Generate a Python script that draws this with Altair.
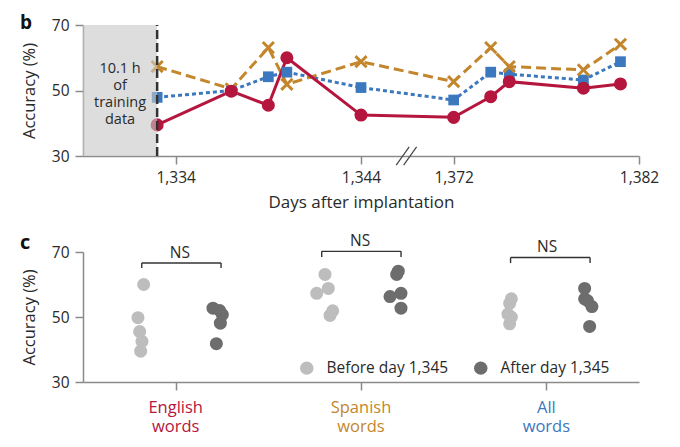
import altair as alt
import pandas as pd

# ---------------- data ----------------
days = [1333, 1337, 1339, 1340, 1344, 1372, 1374, 1375, 1379, 1381]
english = [39.5, 49.8, 45.5, 60.0, 42.5, 41.8, 48.1, 52.7, 50.7, 52.0]
spanish = [57.3, 50.5, 63.1, 51.9, 58.8, 52.7, 63.1, 57.3, 56.3, 64.1]
all_words = [47.9, 50.0, 54.2, 55.6, 50.9, 47.1, 55.6, 55.0, 53.2, 58.8]

tick_days = [1334, 1344, 1372, 1382]
tick_labels = ["1,334", "1,344", "1,372", "1,382"]
y_ticks = [30, 50, 70]
training_text = ["10.1 h", "of", "training", "data"]
training_start, training_end = 1329, 1333

categories = ["English words", "Spanish words", "All words"]
cat_line1 = ["English", "Spanish", "All"]
cat_line2 = ["words", "words", "words"]
periods = ["Before day 1,345", "After day 1,345"]
ns_labels = ["NS", "NS", "NS"]

# horizontal scatter of the dots in panel c (pixels)
jit_before = [[-35, -37.7, -36, -32, -33.7], [-44.3, -31, -36, -28.3, -32.7], [-36.7, -35, -36.7, -35, -38.4]]
jit_after = [[40.7, 44.7, 37.3, 46.7, 44], [40, 35.7, 40, 29, 37.3], [43.3, 38.3, 41.3, 45.6, 38.3]]

# ---------------- style ----------------
RED = "#b5163d"
ORANGE = "#c4862c"
BLUE = "#3b78be"
CAT_COLORS = [RED, ORANGE, BLUE]
LIGHT = "#bdbdbd"
DARK = "#6d6d6d"
FONT = "Open Sans"
TXT = "#2a2a2a"
AX = "#8a8a8a"
W = 556
GAP_SHIFT = 23  # days removed by the broken axis


def pos_of(d):
    return d - GAP_SHIFT if d > 1360 else d


tick_pos = [pos_of(d) for d in tick_days]
label_expr = " : ".join(
    f"datum.value == {p} ? '{l}'" for p, l in zip(tick_pos, tick_labels)
) + " : ''"

xscale = alt.Scale(domain=[1329, 1359], nice=False, zero=False)
yscale = alt.Scale(domain=[30, 70], nice=False, zero=False)
xaxis = alt.Axis(values=tick_pos, labelExpr=label_expr, tickSize=8, grid=False,
                 labelPadding=6, titlePadding=9, labelFontSize=15.5, titleFontSize=17,
                 labelFlush=False)
yaxis = alt.Axis(values=y_ticks, tickSize=8, grid=False, labelPadding=6,
                 titlePadding=14, labelFontSize=15.5, titleFontSize=16.5)


def X(f):
    return alt.X(f, type="quantitative", scale=xscale, axis=xaxis, title="Days after implantation")


def Y(f, scale=yscale, axis=yaxis):
    return alt.Y(f, type="quantitative", scale=scale, axis=axis, title="Accuracy (%)")


# ---------------- panel b ----------------
df_top = pd.DataFrame({
    "day": days * 3,
    "acc": english + spanish + all_words,
    "series": ["English"] * 10 + ["Spanish"] * 10 + ["All"] * 10,
})
base = alt.Chart(df_top).transform_calculate(
    pos=f"datum.day > 1360 ? datum.day - {GAP_SHIFT} : datum.day")

red_line = base.transform_filter("datum.series == 'English'").mark_line(
    color=RED, strokeWidth=3).encode(X("pos"), Y("acc"))
orange_line = base.transform_filter("datum.series == 'Spanish'").mark_line(
    color=ORANGE, strokeWidth=3, strokeDash=[10, 5]).encode(X("pos"), Y("acc"))
blue_line = base.transform_filter("datum.series == 'All'").mark_line(
    color=BLUE, strokeWidth=3, strokeDash=[4, 3]).encode(X("pos"), Y("acc"))

red_pts = base.transform_filter("datum.series == 'English'").mark_point(
    shape="circle", filled=True, size=170, color=RED, opacity=1).encode(X("pos"), Y("acc"))
orange_pts = base.transform_filter("datum.series == 'Spanish'").mark_point(
    shape="M-1,-1L1,1M1,-1L-1,1", filled=False, size=125, strokeWidth=3,
    color=ORANGE, opacity=1).encode(X("pos"), Y("acc"))
blue_pts = base.transform_filter("datum.series == 'All'").mark_point(
    shape="square", filled=True, size=115, color=BLUE, opacity=1).encode(X("pos"), Y("acc"))

train = pd.DataFrame({"start": [training_start], "end": [training_end],
                      "lo": [30], "hi": [70], "xc": [(training_start + training_end) / 2],
                      "yc": [56.6]})
rect = alt.Chart(train).mark_rect(color="#c8c8c8", opacity=0.62).encode(
    X("start"), x2="end", y=Y("lo"), y2="hi")
vline = alt.Chart(train).mark_rule(color="#333333", strokeWidth=2.5, strokeDash=[9, 4]).encode(
    X("end"), Y("lo"), y2="hi")
ttext = alt.Chart(train).mark_text(text=training_text, fontSize=14.5, lineHeight=17,
                                   align="center", baseline="middle", color=TXT, font=FONT).encode(
    X("xc"), Y("yc"))

brk = pd.DataFrame({"a": [1345.9, 1346.3], "b": [1346.6, 1347.0],
                    "lo": [27.2, 27.2], "hi": [32.8, 32.8]})
breaks = alt.Chart(brk).mark_rule(color="#444444", strokeWidth=1.2).encode(
    X("a"), x2="b", y=Y("lo"), y2="hi")

letter_b = alt.Chart(pd.DataFrame({"t": ["b"]})).mark_text(
    fontSize=19, fontWeight="bold", align="left", baseline="top", color="#111111", font=FONT
).encode(x=alt.value(-63), y=alt.value(-11), text="t:N")

top = alt.layer(
    blue_line, orange_line, red_line, blue_pts, orange_pts, red_pts,
    rect, vline, ttext, breaks, letter_b
).properties(width=W, height=131)

# ---------------- panel c ----------------
series_by_cat = [english, spanish, all_words]
unit = W / 3.0
rows = []
for gi, vals in enumerate(series_by_cat):
    for v, j in zip(vals[:5], jit_before[gi]):
        rows.append({"cx": gi + 0.5 + j / unit, "acc": v, "period": periods[0]})
    for v, j in zip(vals[5:], jit_after[gi]):
        rows.append({"cx": gi + 0.5 + j / unit, "acc": v, "period": periods[1]})
df_bot = pd.DataFrame(rows)

cscale = alt.Scale(domain=[0, 3], nice=False, zero=False)
caxis = alt.Axis(values=[0.5, 1.5, 2.5], labels=False, tickSize=8, grid=False)
yscale2 = alt.Scale(domain=[30, 70], nice=False, zero=False)


def CX(f):
    return alt.X(f, type="quantitative", scale=cscale, axis=caxis, title=None)


def CY(f):
    return Y(f, scale=yscale2, axis=yaxis)


dots = alt.Chart(df_bot).mark_circle(size=170, opacity=1).encode(
    CX("cx"), CY("acc"),
    color=alt.Color("period:N", scale=alt.Scale(domain=periods, range=[LIGHT, DARK]),
                    legend=alt.Legend(orient="none", legendX=216, legendY=335,
                                      direction="horizontal", title=None,
                                      symbolType="circle", symbolSize=180,
                                      labelFontSize=15.5, labelOffset=12,
                                      columnPadding=24, symbolStrokeWidth=0,
                                      symbolOpacity=1, labelColor=TXT, labelFont=FONT)),
)

# category labels (two lines, coloured per category)
df_cat = pd.DataFrame({"i": [0, 1, 2], "cx": [0.5, 1.5, 2.5],
                       "l1": cat_line1, "l2": cat_line2})
cat_layers = []
for i, col in enumerate(CAT_COLORS):
    sub = alt.Chart(df_cat).transform_filter(f"datum.i == {i}")
    cat_layers.append(sub.mark_text(fontSize=16.5, color=col, baseline="middle", font=FONT)
                      .encode(CX("cx"), y=alt.value(156), text="l1:N"))
    cat_layers.append(sub.mark_text(fontSize=16.5, color=col, baseline="middle", font=FONT)
                      .encode(CX("cx"), y=alt.value(174.5), text="l2:N"))

df_br = pd.DataFrame({
    "x1": [0.317, 1.288, 2.307],
    "x2": [0.745, 1.716, 2.736],
    "ytop": [66.6, 70.2, 68.3],
    "yend": [65.1, 68.5, 66.6],
    "xt": [0.523, 1.495, 2.504],
    "yt": [69.8, 73.5, 71.5],
    "label": ns_labels,
})
br_h = alt.Chart(df_br).mark_rule(color="#333333", strokeWidth=1.4).encode(
    CX("x1"), x2="x2", y=CY("ytop"))
br_l = alt.Chart(df_br).mark_rule(color="#333333", strokeWidth=1.4).encode(
    CX("x1"), CY("ytop"), y2="yend")
br_r = alt.Chart(df_br).mark_rule(color="#333333", strokeWidth=1.4).encode(
    CX("x2"), CY("ytop"), y2="yend")
ns = alt.Chart(df_br).mark_text(fontSize=15.5, color=TXT, baseline="middle", font=FONT).encode(
    CX("xt"), CY("yt"), text="label:N")

letter_c = alt.Chart(pd.DataFrame({"t": ["c"]})).mark_text(
    fontSize=20, fontWeight="bold", align="left", baseline="top", color="#111111", font=FONT
).encode(x=alt.value(-63), y=alt.value(-19.5), text="t:N")

bottom = alt.layer(dots, br_h, br_l, br_r, ns, letter_c, *cat_layers).properties(
    width=W, height=130)

chart = alt.vconcat(top, bottom, spacing=21).properties(
    padding={"left": 12, "top": 6, "right": 5, "bottom": 5}
).configure_view(stroke=None).configure_axis(
    labelFont=FONT, titleFont=FONT, labelColor=TXT, titleColor=TXT,
    domainColor=AX, tickColor=AX, domainWidth=1.5, tickWidth=1.5,
    titleFontWeight="normal"
).configure_text(font=FONT)

chart.save("out.html", embed_options={"renderer": "svg", "actions": False})
